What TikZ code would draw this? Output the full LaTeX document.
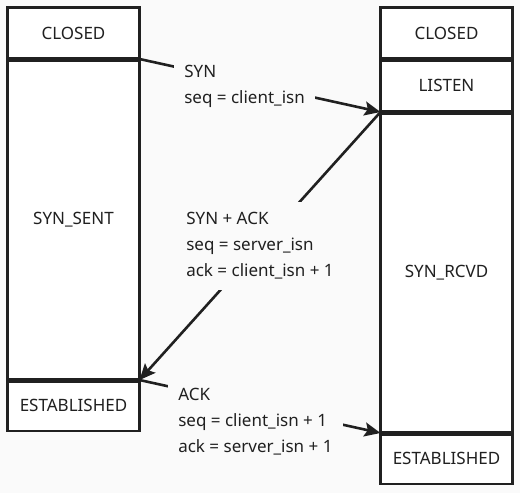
\documentclass[tikz,border=0pt]{standalone}
\usepackage{fontspec}
\setmainfont{Noto Sans}
\usetikzlibrary{arrows.meta,positioning}
\definecolor{pagebg}{RGB}{250,250,250}
\definecolor{ink}{RGB}{32,32,32}

\begin{document}
\begin{tikzpicture}[x=1pt,y=1pt,color=ink,>={Stealth[length=16pt,width=14pt,inset=3pt]},
      line width=2.6pt,
      state/.style={rectangle,draw,fill=white,outer sep=0pt,minimum width=132pt,
        font=\fontsize{17}{26}\selectfont},
      msg/.style={fill=pagebg,align=left,inner xsep=10pt,inner ysep=11pt,
        font=\fontsize{17}{26}\selectfont},
      sep/.style={line width=5pt}]

    \fill[pagebg] (0,0) rectangle (520,-493);
    \useasboundingbox (0,0) rectangle (520,-493);

    % client side
    \node[state,minimum height=51.5pt,anchor=north west] (c1) at (7.5,-7.5) {CLOSED};
    \node[state,minimum height=321pt] (c2) [below=0pt of c1] {SYN\_SENT};
    \node[state,minimum height=51pt] (c3) [below=0pt of c2] {ESTABLISHED};

    % server side
    \node[state,minimum height=51.5pt,anchor=north west] (s1) at (380.5,-7.5) {CLOSED};
    \node[state,minimum height=53pt] (s2) [below=0pt of s1] {LISTEN};
    \node[state,minimum height=321pt] (s3) [below=0pt of s2] {SYN\_RCVD};
    \node[state,minimum height=51pt] (s4) [below=0pt of s3] {ESTABLISHED};

    \draw[sep] (c2.north west) -- (c2.north east);
    \draw[sep] (c3.north west) -- (c3.north east);
    \draw[sep] (s2.north west) -- (s2.north east);
    \draw[sep] (s3.north west) -- (s3.north east);
    \draw[sep] (s4.north west) -- (s4.north east);

    \path[->]
    (c1.south east) edge (s2.south west)
    (s2.south west) edge (c2.south east)
    (c2.south east) edge (s3.south west);

    \node[msg,anchor=west] (m1) at (173,-86) {SYN\\seq = client\_isn};
    \node[msg,anchor=west] (m2) at (175,-246) {SYN + ACK\\seq = server\_isn\\ack = client\_isn + 1};
    \node[msg,anchor=west] (m3) at (167,-422) {ACK\\seq = client\_isn + 1\\ack = server\_isn + 1};
\end{tikzpicture}
\end{document}
